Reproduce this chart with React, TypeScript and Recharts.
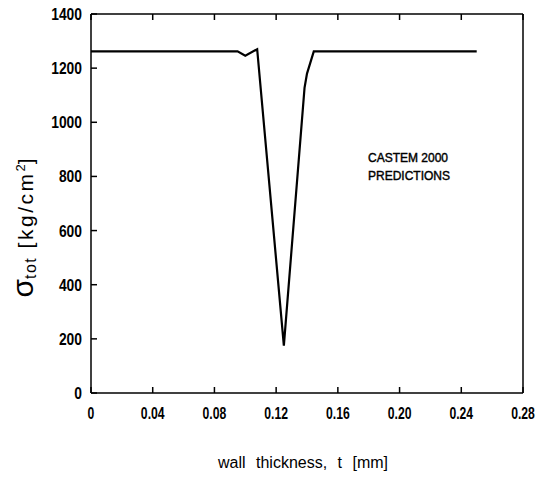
import React from "react";
import { LineChart, Line, XAxis, YAxis, Customized } from "recharts";

const thickness = [0, 0.095, 0.1, 0.1077, 0.125, 0.1384, 0.14, 0.1444, 0.25];
const stress = [1262, 1262, 1246, 1270, 175, 1127, 1180, 1262, 1262];
const xTicks = [0, 0.04, 0.08, 0.12, 0.16, 0.2, 0.24, 0.28];
const xTickLabels = ["0", "0.04", "0.08", "0.12", "0.16", "0.20", "0.24", "0.28"];
const yTicks = [0, 200, 400, 600, 800, 1000, 1200, 1400];
const annotation = ["CASTEM 2000", "PREDICTIONS"];

const data = thickness.map((t, i) => ({ t, s: stress[i] }));

const TICK_FONT = "'Liberation Sans', Arial, sans-serif";
const TEXT_FONT = "'Liberation Sans', Arial, sans-serif";
const TL = 6;

const BottomTick = (p: any) => {
  const idx = xTicks.indexOf(p.payload.value);
  return (
    <g>
      <line x1={p.x} y1={p.y} x2={p.x} y2={p.y - TL} stroke="#000" strokeWidth={1.5} />
      <g transform={`translate(${p.x},${p.y + 26}) scale(0.74,1)`}>
        <text x={0} y={0} textAnchor="middle" fontFamily={TICK_FONT} fontWeight="bold" fontSize={16.5} fill="#000">
          {idx >= 0 ? xTickLabels[idx] : String(p.payload.value)}
        </text>
      </g>
    </g>
  );
};
const TopTick = (p: any) => (
  <line x1={p.x} y1={p.y} x2={p.x} y2={p.y + TL} stroke="#000" strokeWidth={1.5} />
);
const LeftTick = (p: any) => (
  <g>
    <line x1={p.x} y1={p.y} x2={p.x + TL} y2={p.y} stroke="#000" strokeWidth={1.5} />
    <g transform={`translate(${p.x - 9},${p.y + 6}) scale(0.84,1)`}>
      <text x={0} y={0} textAnchor="end" fontFamily={TICK_FONT} fontWeight="bold" fontSize={16.5} fill="#000">
        {p.payload.value}
      </text>
    </g>
  </g>
);
const RightTick = (p: any) => (
  <line x1={p.x} y1={p.y} x2={p.x - TL} y2={p.y} stroke="#000" strokeWidth={1.5} />
);

const Extras = () => (
  <g>
    <text x={368} y={162} fontFamily={TEXT_FONT} fontSize={12} fill="#000" stroke="#000" strokeWidth={0.4}>
      {annotation[0]}
    </text>
    <text x={368} y={180} fontFamily={TEXT_FONT} fontSize={12} fill="#000" stroke="#000" strokeWidth={0.4}>
      {annotation[1]}
    </text>
    <text x={303} y={468} textAnchor="middle" fontFamily={TEXT_FONT} fontSize={16} wordSpacing={6} fill="#000">
      wall thickness, t [mm]
    </text>
    <g transform="translate(33,228) rotate(-90)">
      <text x={0} y={0} textAnchor="middle" fontFamily={TEXT_FONT} fill="#000">
        <tspan fontSize={30}>σ</tspan>
        <tspan fontSize={16} dy={3} letterSpacing={1.5}>tot</tspan>
        <tspan fontSize={21} dy={-3} letterSpacing={2.5}> [kg/cm</tspan>
        <tspan fontSize={13} dy={-8}>2</tspan>
        <tspan fontSize={21} dy={8}>]</tspan>
      </text>
    </g>
  </g>
);

export default function App() {
  return (
    <div style={{ position: "absolute", left: 0, top: 0, background: "#fff" }}>
      <LineChart
        width={537}
        height={477}
        data={data}
        margin={{ top: 13, right: 13, left: 0, bottom: 54 }}
      >
        <XAxis
          xAxisId="b"
          dataKey="t"
          type="number"
          domain={[0, 0.28]}
          ticks={xTicks}
          interval={0}
          height={30}
          tickSize={0}
          tickMargin={0}
          tickLine={false}
          axisLine={{ stroke: "#000", strokeWidth: 1.5 }}
          tick={<BottomTick />}
        />
        <XAxis
          xAxisId="top"
          orientation="top"
          dataKey="t"
          type="number"
          domain={[0, 0.28]}
          ticks={xTicks}
          interval={0}
          height={1}
          tickSize={0}
          tickMargin={0}
          tickLine={false}
          axisLine={{ stroke: "#000", strokeWidth: 1.5 }}
          tick={<TopTick />}
        />
        <YAxis
          yAxisId="l"
          type="number"
          domain={[0, 1400]}
          ticks={yTicks}
          interval={0}
          width={91}
          tickSize={0}
          tickMargin={0}
          tickLine={false}
          axisLine={{ stroke: "#000", strokeWidth: 1.5 }}
          tick={<LeftTick />}
        />
        <YAxis
          yAxisId="r"
          orientation="right"
          type="number"
          domain={[0, 1400]}
          ticks={yTicks}
          interval={0}
          width={1}
          tickSize={0}
          tickMargin={0}
          tickLine={false}
          axisLine={{ stroke: "#000", strokeWidth: 1.5 }}
          tick={<RightTick />}
        />
        <Line
          xAxisId="b"
          yAxisId="l"
          type="linear"
          dataKey="s"
          stroke="#000"
          strokeWidth={2.2}
          dot={false}
          isAnimationActive={false}
        />
        <Customized component={Extras} />
      </LineChart>
    </div>
  );
}
